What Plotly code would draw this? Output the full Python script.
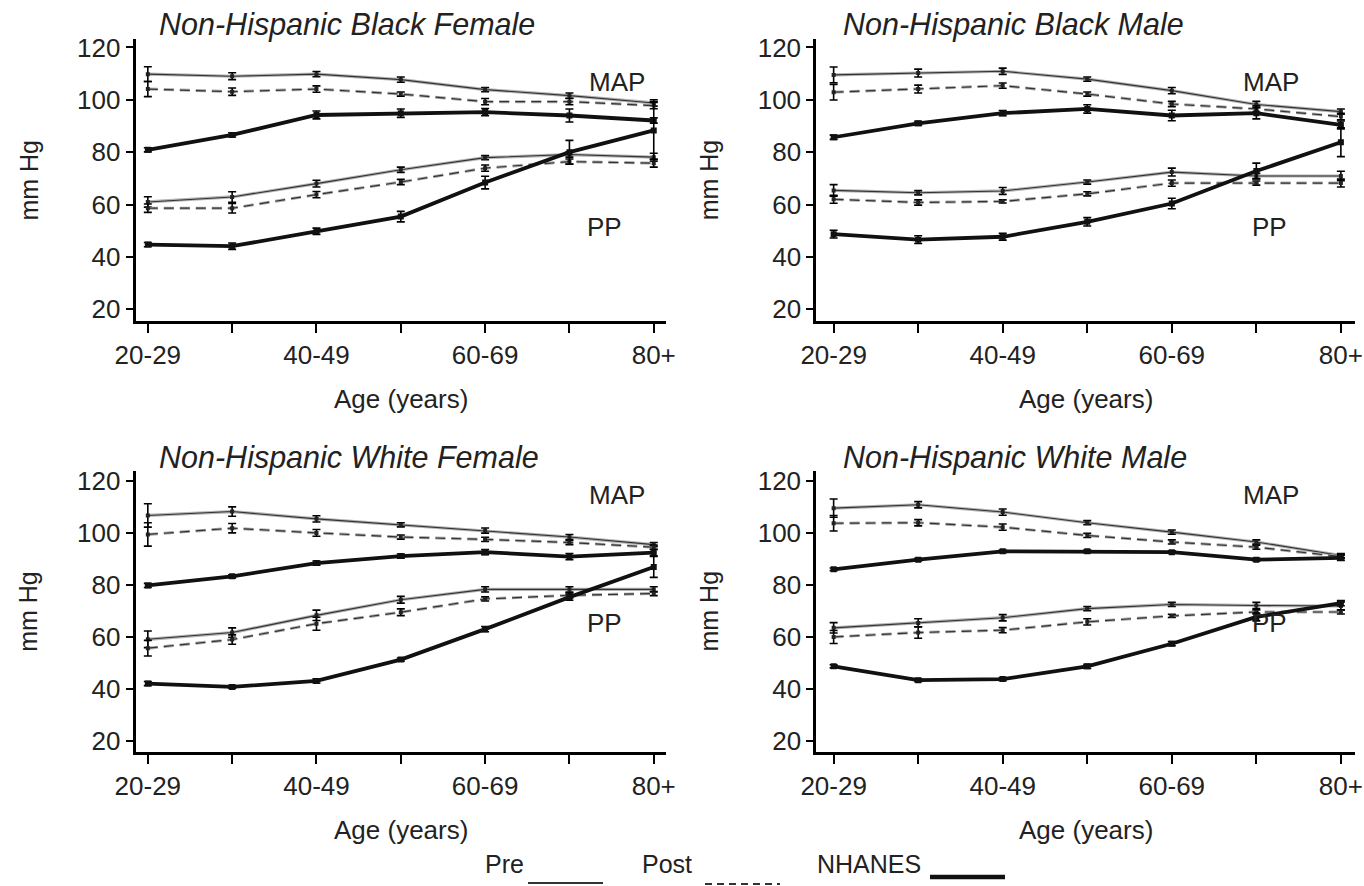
import plotly.graph_objects as go

ages = ["20-29", "30-39", "40-49", "50-59", "60-69", "70-79", "80+"]
panel_titles = ["Non-Hispanic Black Female", "Non-Hispanic Black Male",
                "Non-Hispanic White Female", "Non-Hispanic White Male"]

# ---- Non-Hispanic Black Female ----
bf_map_pre = [109.8, 109.0, 109.8, 107.7, 103.9, 101.6, 98.8]
bf_map_pre_err = [2.8, 1.3, 1.0, 1.0, 0.8, 1.0, 1.2]
bf_map_post = [104.1, 103.1, 104.1, 102.2, 99.3, 99.3, 97.8]
bf_map_post_err = [2.9, 1.4, 1.2, 0.8, 1.2, 1.2, 1.2]
bf_map_nh = [80.9, 86.6, 94.2, 94.9, 95.3, 94.0, 92.1]
bf_map_nh_err = [0.8, 0.8, 1.5, 1.6, 1.4, 2.5, 1.0]
bf_pp_pre = [61.0, 62.9, 68.0, 73.3, 77.9, 79.1, 78.1]
bf_pp_pre_err = [2.0, 2.0, 1.3, 1.0, 0.8, 1.0, 1.5]
bf_pp_post = [58.6, 58.6, 63.8, 68.6, 73.9, 76.4, 75.8]
bf_pp_post_err = [1.6, 1.8, 1.2, 1.0, 1.2, 1.0, 1.5]
bf_pp_nh = [44.7, 44.1, 49.8, 55.4, 68.4, 80.0, 88.3]
bf_pp_nh_err = [0.8, 1.2, 1.2, 2.0, 2.4, 4.5, 11.0]

# ---- Non-Hispanic Black Male ----
bm_map_pre = [109.5, 110.2, 110.9, 107.9, 103.5, 98.2, 95.5]
bm_map_pre_err = [3.0, 1.5, 1.2, 0.8, 1.2, 1.2, 1.0]
bm_map_post = [102.9, 104.1, 105.4, 102.2, 98.4, 96.5, 93.6]
bm_map_post_err = [3.0, 1.5, 1.0, 0.8, 1.0, 1.2, 1.2]
bm_map_nh = [85.7, 91.0, 94.9, 96.5, 94.0, 94.9, 90.4]
bm_map_nh_err = [0.8, 0.8, 1.0, 1.6, 2.0, 2.2, 1.5]
bm_pp_pre = [65.4, 64.5, 65.2, 68.6, 72.4, 70.9, 70.9]
bm_pp_pre_err = [2.2, 0.8, 1.3, 0.8, 1.5, 1.0, 1.8]
bm_pp_post = [62.0, 60.8, 61.2, 64.1, 68.2, 68.2, 68.2]
bm_pp_post_err = [1.5, 1.0, 0.6, 0.8, 1.2, 0.8, 1.5]
bm_pp_nh = [48.7, 46.6, 47.7, 53.4, 60.4, 72.8, 83.8]
bm_pp_nh_err = [1.5, 1.5, 1.3, 1.6, 2.0, 3.0, 5.5]

# ---- Non-Hispanic White Female ----
wf_map_pre = [106.6, 108.1, 105.3, 103.0, 100.8, 98.3, 95.4]
wf_map_pre_err = [4.5, 1.8, 1.2, 0.8, 1.0, 1.0, 0.8]
wf_map_post = [99.3, 101.7, 99.9, 98.3, 97.4, 96.2, 94.4]
wf_map_post_err = [4.5, 1.8, 1.3, 0.8, 0.8, 0.8, 0.8]
wf_map_nh = [79.7, 83.2, 88.3, 91.0, 92.5, 90.8, 92.3]
wf_map_nh_err = [0.8, 0.6, 0.8, 0.8, 1.0, 1.2, 1.2]
wf_pp_pre = [59.0, 61.6, 68.2, 74.2, 78.2, 78.2, 78.2]
wf_pp_pre_err = [3.2, 1.8, 2.0, 1.3, 1.0, 1.0, 1.0]
wf_pp_post = [55.6, 58.9, 65.0, 69.4, 74.5, 75.9, 76.6]
wf_pp_post_err = [3.0, 1.8, 2.5, 1.3, 0.8, 1.0, 0.8]
wf_pp_nh = [42.0, 40.7, 43.0, 51.2, 62.9, 75.2, 86.8]
wf_pp_nh_err = [0.8, 0.6, 0.8, 0.6, 1.0, 1.2, 4.0]

# ---- Non-Hispanic White Male ----
wm_map_pre = [109.4, 110.7, 107.9, 103.8, 100.2, 96.4, 91.2]
wm_map_pre_err = [3.5, 1.2, 1.2, 0.8, 0.8, 0.8, 0.8]
wm_map_post = [103.6, 103.8, 102.1, 98.9, 96.4, 94.4, 90.8]
wm_map_post_err = [3.0, 1.2, 1.2, 0.8, 0.8, 0.8, 0.8]
wm_map_nh = [85.9, 89.6, 92.8, 92.8, 92.5, 89.6, 90.3]
wm_map_nh_err = [0.5, 0.5, 0.5, 0.5, 0.5, 0.5, 1.0]
wm_pp_pre = [63.4, 65.3, 67.3, 70.8, 72.4, 72.0, 71.8]
wm_pp_pre_err = [2.0, 1.6, 1.2, 0.8, 0.8, 1.2, 1.6]
wm_pp_post = [59.9, 61.6, 62.5, 65.7, 68.0, 69.5, 69.5]
wm_pp_post_err = [2.5, 2.2, 1.0, 1.2, 0.6, 0.8, 0.8]
wm_pp_nh = [48.6, 43.3, 43.7, 48.6, 57.3, 67.6, 72.9]
wm_pp_nh_err = [0.6, 0.6, 0.6, 0.8, 0.8, 1.5, 1.0]

yticks = [20, 40, 60, 80, 100, 120]
legend_labels = ["Pre", "Post", "NHANES"]

panels = [
    dict(mp=bf_map_pre, mpe=bf_map_pre_err, mo=bf_map_post, moe=bf_map_post_err,
         mn=bf_map_nh, mne=bf_map_nh_err, pp=bf_pp_pre, ppe=bf_pp_pre_err,
         po=bf_pp_post, poe=bf_pp_post_err, pn=bf_pp_nh, pne=bf_pp_nh_err),
    dict(mp=bm_map_pre, mpe=bm_map_pre_err, mo=bm_map_post, moe=bm_map_post_err,
         mn=bm_map_nh, mne=bm_map_nh_err, pp=bm_pp_pre, ppe=bm_pp_pre_err,
         po=bm_pp_post, poe=bm_pp_post_err, pn=bm_pp_nh, pne=bm_pp_nh_err),
    dict(mp=wf_map_pre, mpe=wf_map_pre_err, mo=wf_map_post, moe=wf_map_post_err,
         mn=wf_map_nh, mne=wf_map_nh_err, pp=wf_pp_pre, ppe=wf_pp_pre_err,
         po=wf_pp_post, poe=wf_pp_post_err, pn=wf_pp_nh, pne=wf_pp_nh_err),
    dict(mp=wm_map_pre, mpe=wm_map_pre_err, mo=wm_map_post, moe=wm_map_post_err,
         mn=wm_map_nh, mne=wm_map_nh_err, pp=wm_pp_pre, ppe=wm_pp_pre_err,
         po=wm_pp_post, poe=wm_pp_post_err, pn=wm_pp_nh, pne=wm_pp_nh_err),
]

W, H = 1364, 886
FONT = "Liberation Sans, Arial, sans-serif"
TXT = "#222222"

# panel geometry in pixels: left, right, top, bottom, x-range, y-range
geo = [
    (135.6, 666.4, 39.3, 320.7, (-0.145, 6.15), (15.65, 123.1)),
    (816.3, 1355.0, 39.3, 320.7, (-0.205, 6.167), (15.65, 123.1)),
    (135.6, 666.4, 470.7, 751.7, (-0.145, 6.15), (15.8, 123.8)),
    (816.3, 1355.0, 470.7, 751.7, (-0.205, 6.167), (15.8, 123.8)),
]

fig = go.Figure()
xs = list(range(len(ages)))


def err(a):
    return dict(type="data", array=a, visible=True, color="black", thickness=1.6, width=4)


for i, p in enumerate(panels):
    xa = "x" if i == 0 else f"x{i+1}"
    ya = "y" if i == 0 else f"y{i+1}"
    for key, ekey in (("mp", "mpe"), ("pp", "ppe")):
        fig.add_trace(go.Scatter(x=xs, y=p[key], mode="lines", xaxis=xa, yaxis=ya,
                                 line=dict(color="#b4b4b4", width=3.2), showlegend=False,
                                 hoverinfo="skip"))
        fig.add_trace(go.Scatter(x=xs, y=p[key], mode="lines+markers", xaxis=xa, yaxis=ya,
                                 line=dict(color="#333333", width=1.1),
                                 marker=dict(symbol="square", size=4, color="#222"),
                                 error_y=err(p[ekey]), showlegend=False))
    for key, ekey in (("mo", "moe"), ("po", "poe")):
        fig.add_trace(go.Scatter(x=xs, y=p[key], mode="lines", xaxis=xa, yaxis=ya,
                                 line=dict(color="#ababab", width=3.0, dash="10px,6px"),
                                 showlegend=False, hoverinfo="skip"))
        fig.add_trace(go.Scatter(x=xs, y=p[key], mode="lines+markers", xaxis=xa, yaxis=ya,
                                 line=dict(color="#333333", width=1.2, dash="10px,6px"),
                                 marker=dict(symbol="square", size=4, color="#222"),
                                 error_y=err(p[ekey]), showlegend=False))
    for key, ekey in (("mn", "mne"), ("pn", "pne")):
        fig.add_trace(go.Scatter(x=xs, y=p[key], mode="lines+markers", xaxis=xa, yaxis=ya,
                                 line=dict(color="#111111", width=3.8),
                                 marker=dict(symbol="square", size=6, color="#111"),
                                 error_y=err(p[ekey]), showlegend=False))

    l, r, t, b, xr, yr = geo[i]
    sfx = "" if i == 0 else str(i + 1)
    fig.layout["xaxis" + sfx] = dict(
        domain=[l / W, r / W], range=list(xr), anchor=ya, automargin=False,
        tickmode="array", tickvals=xs,
        ticktext=[a if j % 2 == 0 else "" for j, a in enumerate(ages)],
        showline=True, linewidth=3, linecolor="black",
        ticks="outside", ticklen=9, tickwidth=2, tickcolor="black",
        showgrid=False, zeroline=False,
        tickfont=dict(family=FONT, size=26, color=TXT),
    )
    fig.layout["yaxis" + sfx] = dict(
        domain=[1 - b / H, 1 - t / H], range=list(yr), anchor=xa, automargin=False,
        tickmode="array", tickvals=yticks,
        showline=True, linewidth=3, linecolor="black",
        ticks="outside", ticklen=7, tickwidth=2, tickcolor="black",
        showgrid=False, zeroline=False,
        tickfont=dict(family=FONT, size=26, color=TXT),
    )


def px(x, y):
    return x / W, 1 - y / H


annotations = []
title_pos = [(157, 24), (841, 24), (157, 457), (841, 457)]
for (tx, ty), tt in zip(title_pos, panel_titles):
    ax, ay = px(tx, ty)
    annotations.append(dict(text=f"<i>{tt}</i>", x=ax, y=ay, xref="paper", yref="paper",
                            xanchor="left", yanchor="middle", showarrow=False,
                            font=dict(family=FONT, size=30.5, color=TXT)))

for i in range(4):
    l, r, t, b, xr, yr = geo[i]
    ax, ay = px((l + r) / 2, b + 78)
    annotations.append(dict(text="Age (years)", x=ax, y=ay, xref="paper", yref="paper",
                            xanchor="center", yanchor="middle", showarrow=False,
                            font=dict(family=FONT, size=26, color=TXT)))
    ax, ay = px(l - 107, (t + b) / 2)
    annotations.append(dict(text="mm Hg", x=ax, y=ay, xref="paper", yref="paper",
                            textangle=-90, xanchor="center", yanchor="middle", showarrow=False,
                            font=dict(family=FONT, size=25, color=TXT)))

lab_pos = [((617, 65), (604, 210)), ((1301, 65), (1289, 210)),
           ((617, 495), (604, 640)), ((1301, 495), (1289, 640))]
for (mx, my), (qx, qy) in lab_pos:
    ax, ay = px(mx, my)
    annotations.append(dict(text="MAP", x=ax, y=ay, xref="paper", yref="paper",
                            showarrow=False, font=dict(family=FONT, size=26, color=TXT)))
    ax, ay = px(qx, qy)
    annotations.append(dict(text="PP", x=ax, y=ay, xref="paper", yref="paper",
                            showarrow=False, font=dict(family=FONT, size=26, color=TXT)))

# bottom legend
leg_text_x = [483, 640, 815]
for lx, lab in zip(leg_text_x, legend_labels):
    ax, ay = px(lx, 864)
    annotations.append(dict(text=lab, x=ax, y=ay, xref="paper", yref="paper",
                            xanchor="left", yanchor="middle", showarrow=False,
                            font=dict(family=FONT, size=25, color=TXT)))
shapes = [
    dict(type="line", xref="paper", yref="paper", x0=528 / W, x1=603 / W, y0=1 - 883 / H, y1=1 - 883 / H,
         line=dict(color="#333", width=2)),
    dict(type="line", xref="paper", yref="paper", x0=705 / W, x1=780 / W, y0=1 - 884 / H, y1=1 - 884 / H,
         line=dict(color="#333", width=2, dash="7px,5px")),
    dict(type="line", xref="paper", yref="paper", x0=930 / W, x1=1005 / W, y0=1 - 877 / H, y1=1 - 877 / H,
         line=dict(color="#111", width=4.5)),
]

fig.update_layout(width=W, height=H, margin=dict(l=0, r=0, t=0, b=0),
                  paper_bgcolor="white", plot_bgcolor="white",
                  annotations=annotations, shapes=shapes, showlegend=False,
                  font=dict(family=FONT, color=TXT))

fig.write_html("out.html")
